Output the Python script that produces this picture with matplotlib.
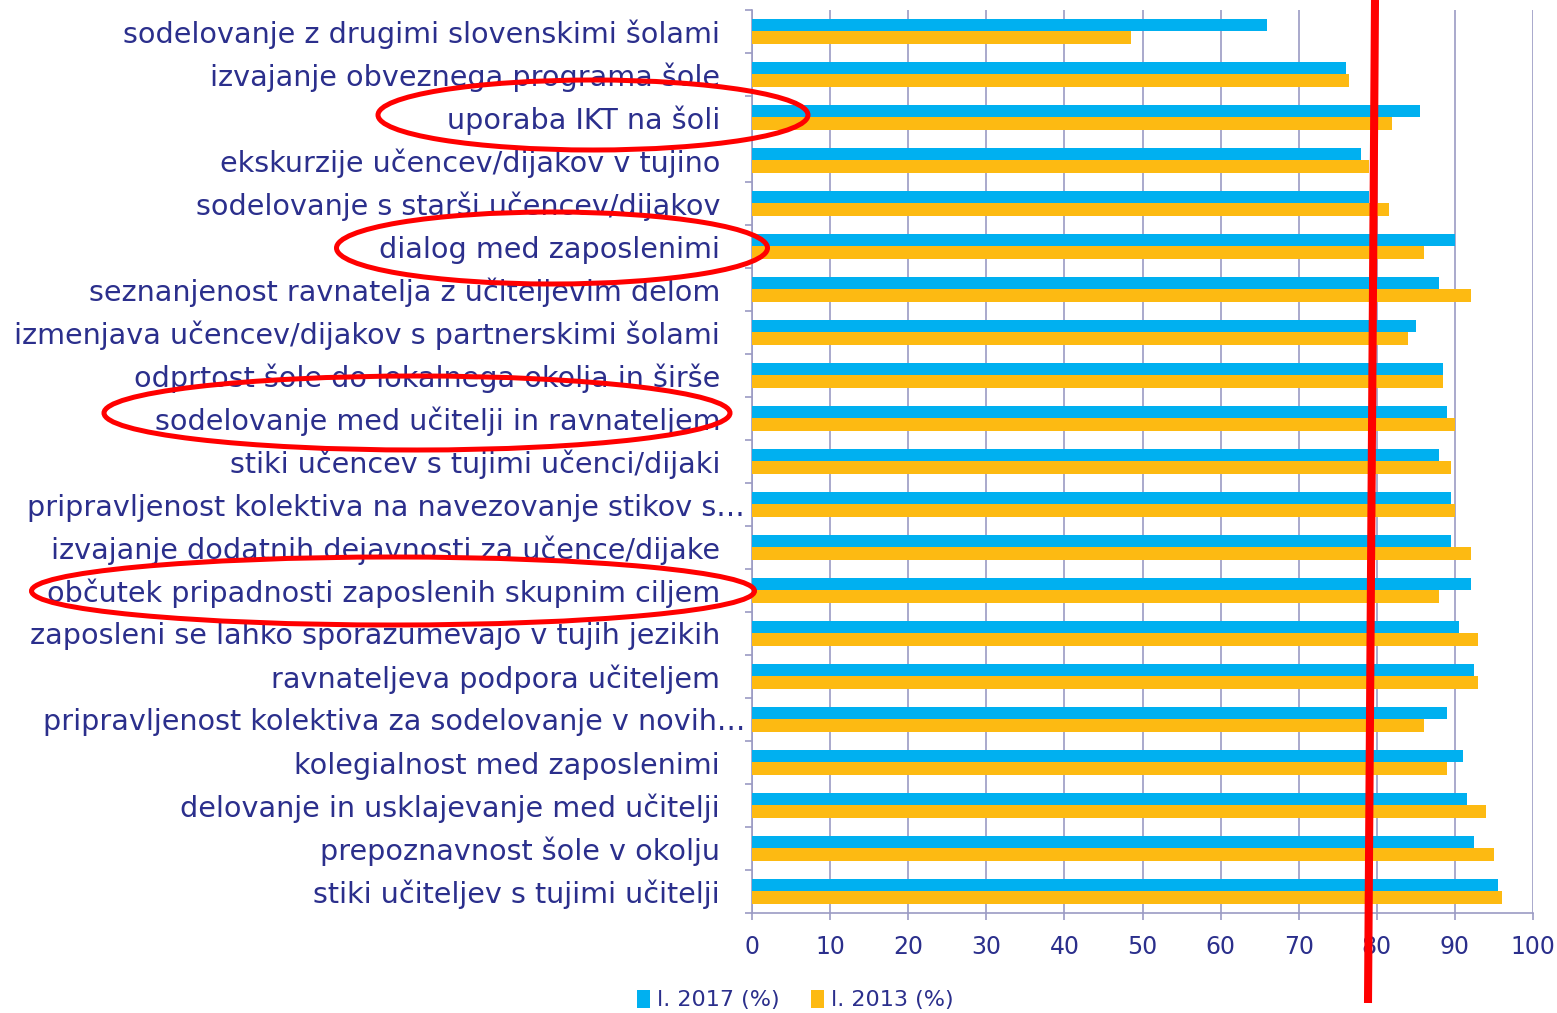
import matplotlib
matplotlib.use("Agg")
import matplotlib.pyplot as plt
import numpy as np
from matplotlib.patches import Ellipse
import matplotlib.transforms as mtransforms

categories = [
    "sodelovanje z drugimi slovenskimi šolami",
    "izvajanje obveznega programa šole",
    "uporaba IKT na šoli",
    "ekskurzije učencev/dijakov v tujino",
    "sodelovanje s starši učencev/dijakov",
    "dialog med zaposlenimi",
    "seznanjenost ravnatelja z učiteljevim delom",
    "izmenjava učencev/dijakov s partnerskimi šolami",
    "odprtost šole do lokalnega okolja in širše",
    "sodelovanje med učitelji in ravnateljem",
    "stiki učencev s tujimi učenci/dijaki",
    "pripravljenost kolektiva na navezovanje stikov s…",
    "izvajanje dodatnih dejavnosti za učence/dijake",
    "občutek pripadnosti zaposlenih skupnim ciljem",
    "zaposleni se lahko sporazumevajo v tujih jezikih",
    "ravnateljeva podpora učiteljem",
    "pripravljenost kolektiva za sodelovanje v novih…",
    "kolegialnost med zaposlenimi",
    "delovanje in usklajevanje med učitelji",
    "prepoznavnost šole v okolju",
    "stiki učiteljev s tujimi učitelji",
]
values_2017 = [66, 76, 85.5, 78, 79, 90, 88, 85, 88.5, 89, 88, 89.5, 89.5, 92,
               90.5, 92.5, 89, 91, 91.5, 92.5, 95.5]
values_2013 = [48.5, 76.5, 82, 79, 81.5, 86, 92, 84, 88.5, 90, 89.5, 90, 92, 88,
               93, 93, 86, 89, 94, 95, 96]
series_labels = ["l. 2017 (%)", "l. 2013 (%)"]
x_ticks = [0, 10, 20, 30, 40, 50, 60, 70, 80, 90, 100]

# hand-drawn annotations (figure pixel coords): ellipses (cx, cy, w, h) and red line
ellipses_px = [(593, 115, 430, 70), (552, 248, 431, 72),
               (417, 413, 626, 74), (393, 591, 723, 68)]
red_line_px = [(1375, 0), (1368, 1003)]

W, H = 1557, 1013
fig = plt.figure(figsize=(W / 100, H / 100), dpi=100)
ax = fig.add_axes([752 / W, 1 - 913 / H, (1533 - 752) / W, (913 - 10) / H])

text_color = "#2B2F8C"
grid_color = "#9B9BC4"
blue = "#00B0F0"
yellow = "#FDBA12"

y = np.arange(len(categories))
bh = 0.28
ax.barh(y - bh / 2, values_2017, height=bh, color=blue, label=series_labels[0], zorder=3)
ax.barh(y + bh / 2, values_2013, height=bh, color=yellow, label=series_labels[1], zorder=3)

ax.set_xlim(0, 100)
ax.set_ylim(len(categories) - 0.5, -0.5)
ax.set_xticks(x_ticks)
ax.set_xticklabels([str(v) for v in x_ticks])
ax.set_yticks(y)
ax.set_yticklabels(categories)
ax.set_yticks(np.arange(len(categories) + 1) - 0.5, minor=True)

ax.xaxis.grid(True, color=grid_color, linewidth=1.2, zorder=0)
ax.set_axisbelow(True)
for s in ["top", "right"]:
    ax.spines[s].set_visible(False)
for s in ["left", "bottom"]:
    ax.spines[s].set_color(grid_color)
    ax.spines[s].set_linewidth(1.2)

ax.tick_params(axis="y", which="major", length=0, pad=23, labelsize=20.6, labelcolor=text_color)
ax.tick_params(axis="y", which="minor", length=5, width=1.2, color=grid_color, direction="out")
ax.tick_params(axis="x", which="major", length=5, width=1.2, color=grid_color, pad=11,
               labelsize=17, labelcolor=text_color)

# truncated labels extend a bit further right
off = mtransforms.ScaledTranslation(25 / 100, 0, fig.dpi_scale_trans)
for lab in ax.get_yticklabels():
    if lab.get_text().endswith("…"):
        lab.set_transform(lab.get_transform() + off)

leg = fig.legend(loc="center", bbox_to_anchor=(795 / W, 1 - 1000 / H), ncol=2, frameon=False,
                 fontsize=16, handlelength=0.6, handleheight=0.9, handletextpad=0.3,
                 columnspacing=1.4, labelcolor=text_color)

# overlay for annotations
ov = fig.add_axes([0, 0, 1, 1], facecolor="none")
ov.set_xlim(0, W)
ov.set_ylim(H, 0)
ov.axis("off")
for cx, cy, w, h in ellipses_px:
    ov.add_patch(Ellipse((cx, cy), w, h, fill=False, edgecolor="#FF0000", linewidth=3.6))
ov.plot([p[0] for p in red_line_px], [p[1] for p in red_line_px], color="#FF0000",
        linewidth=5.8, solid_capstyle="butt")

fig.savefig("out.png", dpi=100)
